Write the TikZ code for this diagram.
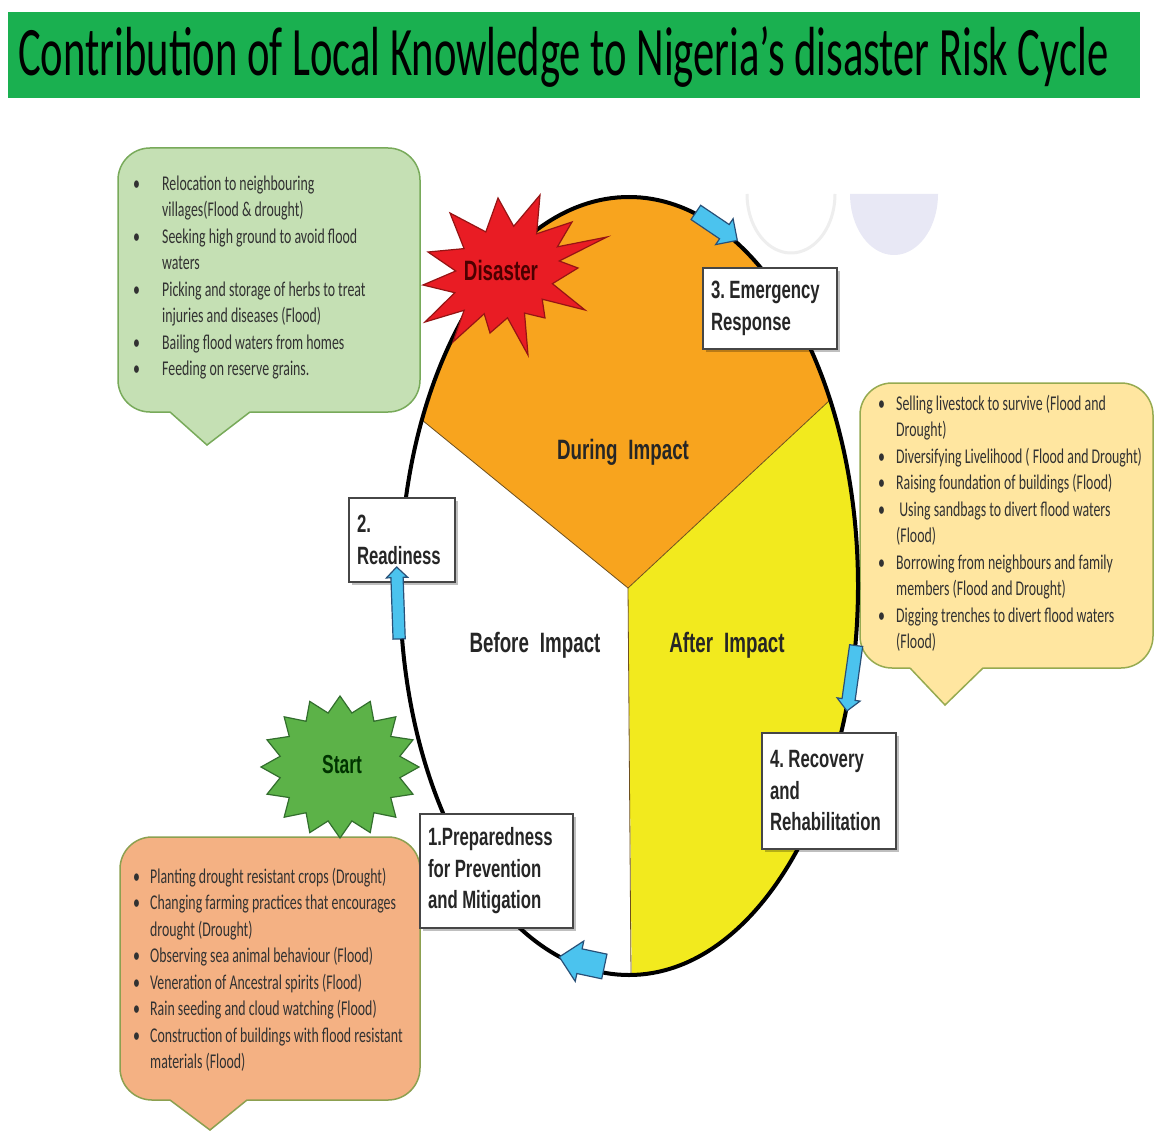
\documentclass[tikz,border=0pt]{standalone}
\usepackage{fontspec}
\usepackage{graphicx}
\usetikzlibrary{shapes.arrows,shadows}
\newfontfamily\calib{Carlito}
\newfontfamily\calibn[FakeStretch=0.66]{Carlito}
\newfontfamily\arialn[FakeStretch=0.67]{Liberation Sans}
\newcommand\gap{\hspace{4.5pt}}

\definecolor{titlegreen}{RGB}{26,176,80}
\definecolor{orangesec}{RGB}{248,164,30}
\definecolor{yellowsec}{RGB}{242,234,30}
\definecolor{divline}{RGB}{110,80,30}
\definecolor{gfill}{RGB}{197,224,180}
\definecolor{gedge}{RGB}{120,170,90}
\definecolor{yfill}{RGB}{255,230,160}
\definecolor{yedge}{RGB}{150,170,80}
\definecolor{ofill}{RGB}{244,177,131}
\definecolor{oedge}{RGB}{140,160,80}
\definecolor{calltext}{RGB}{50,50,50}
\definecolor{boxedge}{RGB}{70,70,70}
\definecolor{arrowblue}{RGB}{75,195,238}
\definecolor{arrowedge}{RGB}{40,80,120}
\definecolor{burstred}{RGB}{233,28,36}
\definecolor{burstedge}{RGB}{150,20,20}
\definecolor{startgreen}{RGB}{92,178,72}
\definecolor{startedge}{RGB}{50,110,45}
\definecolor{faintgray}{RGB}{238,238,238}
\definecolor{lavender}{RGB}{232,232,245}

\begin{document}
\begin{tikzpicture}[x=1pt,y=-1pt,
  lbl/.style={draw=boxedge, line width=1.3, fill=white, align=left,
    inner xsep=8, inner ysep=0, text=black!85,
    font=\arialn\bfseries\fontsize{25}{31.5}\selectfont,
    drop shadow={shadow xshift=3pt, shadow yshift=-3pt, fill=black, opacity=0.25}},
  phase/.style={font=\arialn\bfseries\fontsize{28}{34}\selectfont, text=black!85, inner sep=0},
  starlbl/.style={font=\arialn\bfseries\fontsize{26}{30}\selectfont, inner sep=0},
  bullets/.style={anchor=north west, inner sep=0, text=calltext,
    font=\calibn\fontsize{21}{26.5}\selectfont},
  blockarrow/.style={single arrow, draw=arrowedge, fill=arrowblue, line width=1.2,
    inner xsep=0, single arrow head indent=0},
  divider/.style={draw=divline, line width=0.8}]

\useasboundingbox (0,0) rectangle (1155,1131);
\fill[white] (0,0) rectangle (1155,1131);

% title band
\fill[titlegreen] (8,12) rectangle (1140,98);
\node[anchor=base west, inner sep=0] (title) at (18,76)
  {\resizebox{1090pt}{49pt}{\calib Contribution of Local Knowledge to Nigeria’s disaster Risk Cycle}};

% faint background shapes at the top
\draw[faintgray, line width=3] plot[domain=0:180, samples=40, variable=\t]
  ({791+44*cos(\t)}, {194+59*sin(\t)});
\fill[lavender] plot[domain=0:180, samples=40, variable=\t]
  ({894+44*cos(\t)}, {194+61*sin(\t)}) -- cycle;

% cycle sectors
\coordinate (hub) at (628,588);
\coordinate (ul) at (422,420);
\coordinate (ur) at (830,400);
\coordinate (bt) at (631,976);
\begin{scope}
  \clip (629,586) ellipse [x radius=229, y radius=389];
  \fill[orangesec] (hub) -- (216,252) -- (216,100) -- (1032,100) -- (1032,212) -- cycle;
  \fill[yellowsec] (hub) -- (1032,212) -- (1032,1000) -- (632,1000) -- cycle;
\end{scope}
\draw[divider] (ul) -- (hub) -- (ur);
\draw[divider] (hub) -- (bt);

% callouts
\draw[draw=gedge, fill=gfill, line width=1.5, rounded corners=32] (118,148) rectangle (420,412);
\fill[gfill] (170,409) -- (170,412) -- (207,445) -- (250,412) -- (250,409) -- cycle;
\draw[gedge, line width=1.5] (170,412) -- (207,445) -- (250,412);

\draw[draw=yedge, fill=yfill, line width=1.5, rounded corners=32] (860,383) rectangle (1153,668);
\fill[yfill] (910,665) -- (910,668) -- (945,705) -- (983,668) -- (983,665) -- cycle;
\draw[yedge, line width=1.5] (910,668) -- (945,705) -- (983,668);

\draw[draw=oedge, fill=ofill, line width=1.5, rounded corners=32] (120,837) rectangle (420,1100);
\fill[ofill] (170,1097) -- (170,1100) -- (210,1130) -- (247,1100) -- (247,1097) -- cycle;
\draw[oedge, line width=1.5] (170,1100) -- (210,1130) -- (247,1100);

\node[bullets] (duringlist) at (133,171.5) {%
\begin{tabular}{@{}p{29pt}@{}l@{}}
• & Relocation to neighbouring\\
  & villages(Flood \& drought)\\
• & Seeking high ground to avoid flood\\
  & waters\\
• & Picking and storage of herbs to treat\\
  & injuries and diseases (Flood)\\
• & Bailing flood waters from homes\\
• & Feeding on reserve grains.
\end{tabular}};

\node[bullets] (afterlist) at (878,391.5) {%
\begin{tabular}{@{}p{18pt}@{}l@{}}
• & Selling livestock to survive (Flood and\\
  & Drought)\\
• & Diversifying Livelihood ( Flood and Drought)\\
• & Raising foundation of buildings (Flood)\\
• & \ Using sandbags to divert flood waters\\
  & (Flood)\\
• & Borrowing from neighbours and family\\
  & members (Flood and Drought)\\
• & Digging trenches to divert flood waters\\
  & (Flood)
\end{tabular}};

\node[bullets] (beforelist) at (133,864.5) {%
\begin{tabular}{@{}p{17pt}@{}l@{}}
• & Planting drought resistant crops (Drought)\\
• & Changing farming practices that encourages\\
  & drought (Drought)\\
• & Observing sea animal behaviour (Flood)\\
• & Veneration of Ancestral spirits (Flood)\\
• & Rain seeding and cloud watching (Flood)\\
• & Construction of buildings with flood resistant\\
  & materials (Flood)
\end{tabular}};

% start burst (sits under the cycle outline)
\filldraw[fill=startgreen, draw=startedge, line width=1.2]
  plot[samples at={0,...,31}, variable=\i]
  ({340+ifthenelse(mod(\i,2)==0,79,61)*cos(\i*11.25)},
   {767+ifthenelse(mod(\i,2)==0,71,55)*sin(\i*11.25)}) -- cycle;
\node[starlbl, text=black!80!green] (startlbl) at (342,765) {Start};

% cycle outline
\draw[line width=4] (629,586) ellipse [x radius=229, y radius=389];

% disaster burst
\filldraw[fill=burstred, draw=burstedge, line width=1.2]
  (498,198) -- (513.7,226.3) -- (540,195) -- (536.6,233.8) -- (572,222) -- (557.4,246.8)
  -- (607,237) -- (559.3,261) -- (578,268) -- (552.4,283.7) -- (585,310) -- (542.2,299.2)
  -- (545,318) -- (524.5,313.1) -- (528,355) -- (507.5,317.8) -- (490,333) -- (484.2,313.8)
  -- (453,342) -- (464.1,310.3) -- (425,322) -- (454.8,292.7) -- (423,285) -- (455.7,271)
  -- (428,252) -- (464.1,248.6) -- (450,213) -- (485.8,231.9) -- cycle;
\node[starlbl, font=\arialn\bfseries\fontsize{28}{32}\selectfont, text=black!70!red] (disasterlbl) at (501,270) {Disaster};

% phase names
\node[phase] (during) at (623,452) {During\hspace{11pt}Impact};
\node[phase] (before) at (535,645) {Before\hspace{11pt}Impact};
\node[phase] (after) at (727,645) {After\hspace{11pt}Impact};

% stage boxes
\node[lbl, minimum width=134, minimum height=81, text width=118] (emerg) at (770,308.5) {3.\gap Emergency\\Response};
\node[lbl, minimum width=106, minimum height=84, text width=90] (ready) at (402,540) {2.\\Readiness};
\node[lbl, minimum width=134, minimum height=116, text width=118] (recov) at (829,791) {4.\gap Recovery\\and\\Rehabilitation};
\node[lbl, minimum width=153, minimum height=114, text width=137] (prep) at (496.5,871) {1.Preparedness\\for\gap Prevention\\and\gap Mitigation};

% flow arrows along the cycle
\node[blockarrow, minimum height=50, inner ysep=8, single arrow head extend=7, rotate=-34] (arrowA) at (713,224) {};
\node[blockarrow, minimum height=66, inner ysep=6, single arrow head extend=5, rotate=-98] (arrowB) at (852,675) {};
\node[blockarrow, minimum height=46, inner ysep=12, single arrow head extend=8, rotate=168] (arrowC) at (588,963) {};
\node[blockarrow, minimum height=72, inner ysep=5.5, single arrow head extend=4.5, rotate=92] (arrowD) at (398,606) {};

\end{tikzpicture}
\end{document}
